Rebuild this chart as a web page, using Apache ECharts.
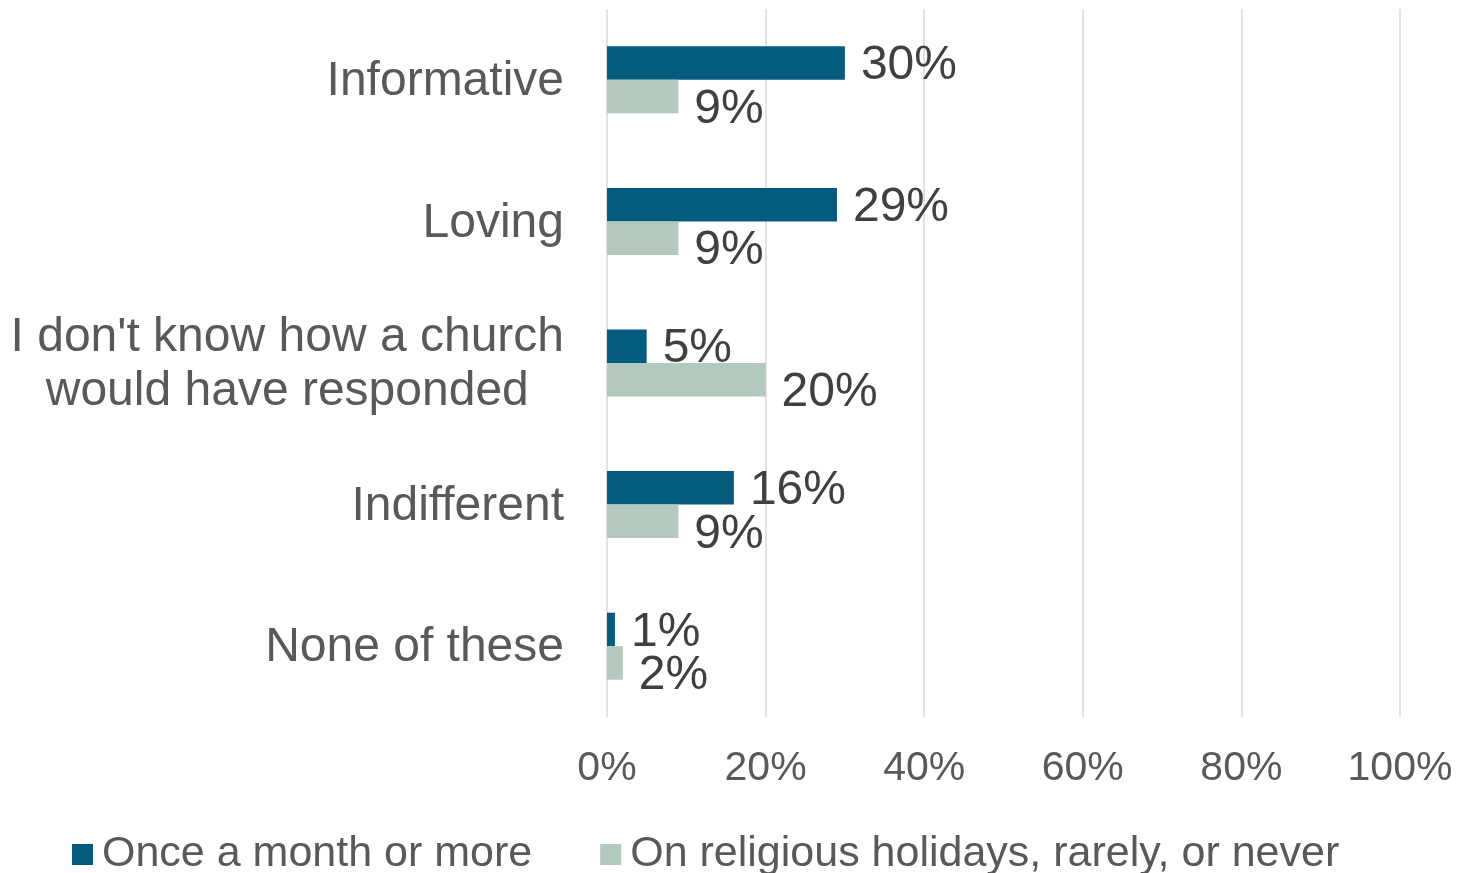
<!DOCTYPE html>
<html>
<head>
<meta charset="utf-8">
<script src="https://cdn.jsdelivr.net/npm/echarts@6/dist/echarts.min.js"></script>
<style>
html,body{margin:0;padding:0;background:#fff;}
#chart{width:1464px;height:873px;}
</style>
</head>
<body>
<div id="chart"></div>
<script>
var categories = ['Informative', 'Loving', "I don't know how a church\nwould have responded", 'Indifferent', 'None of these'];
var seriesNames = ['Once a month or more', 'On religious holidays, rarely, or never'];
var monthlyValues = [30, 29, 5, 16, 1];
var rarelyValues = [9, 9, 20, 9, 2];
var tickLabels = ['0%', '20%', '40%', '60%', '80%', '100%'];

var FONT = '"Liberation Sans", Arial, Helvetica, sans-serif';
var chart = echarts.init(document.getElementById('chart'), null, {renderer: 'canvas'});

var option = {
  backgroundColor: '#ffffff',
  animation: false,
  grid: {left: 607, right: 64, top: 9, bottom: 156, containLabel: false},
  legend: {
    data: seriesNames,
    left: 72,
    top: 833,
    padding: 0,
    icon: 'rect',
    itemWidth: 21,
    itemHeight: 21,
    itemGap: 68,
    textStyle: {fontFamily: FONT, fontSize: 43, color: '#595959', padding: [0, 0, 0, 4]}
  },
  xAxis: {
    type: 'value',
    min: 0,
    max: 100,
    interval: 20,
    axisLine: {show: false},
    axisTick: {show: false},
    splitLine: {show: true, lineStyle: {color: '#d9d9d9', width: 1.5}},
    axisLabel: {
      margin: 31,
      fontFamily: FONT,
      fontSize: 41,
      color: '#595959',
      formatter: function (v) { return tickLabels[Math.round(v / 20)]; }
    }
  },
  yAxis: {
    type: 'category',
    data: categories,
    inverse: true,
    axisLine: {show: false},
    axisTick: {show: false},
    splitLine: {show: false},
    axisLabel: {
      margin: 43,
      fontFamily: FONT,
      fontSize: 48,
      color: '#595959',
      lineHeight: 54,
      padding: [4, 0, 0, 0],
      formatter: function (v) {
        return v.split('\n').map(function (s) { return '{c|' + s + '}'; }).join('\n');
      },
      rich: {c: {align: 'center', fontFamily: FONT, fontSize: 48, color: '#595959', lineHeight: 54}}
    }
  },
  series: [
    {
      name: seriesNames[0],
      type: 'bar',
      data: monthlyValues,
      barWidth: 33.5,
      barGap: '0%',
      itemStyle: {color: '#035b7e'},
      label: {
        show: true,
        position: 'right',
        distance: 16,
        offset: [0, 3],
        fontFamily: FONT,
        fontSize: 48,
        color: '#404040',
        formatter: '{c}%'
      }
    },
    {
      name: seriesNames[1],
      type: 'bar',
      data: rarelyValues,
      barWidth: 33.5,
      barGap: '0%',
      itemStyle: {color: '#b3c9bd'},
      label: {
        show: true,
        position: 'right',
        distance: 16,
        offset: [0, 13],
        fontFamily: FONT,
        fontSize: 48,
        color: '#404040',
        formatter: '{c}%'
      }
    }
  ]
};
chart.setOption(option);
</script>
</body>
</html>
